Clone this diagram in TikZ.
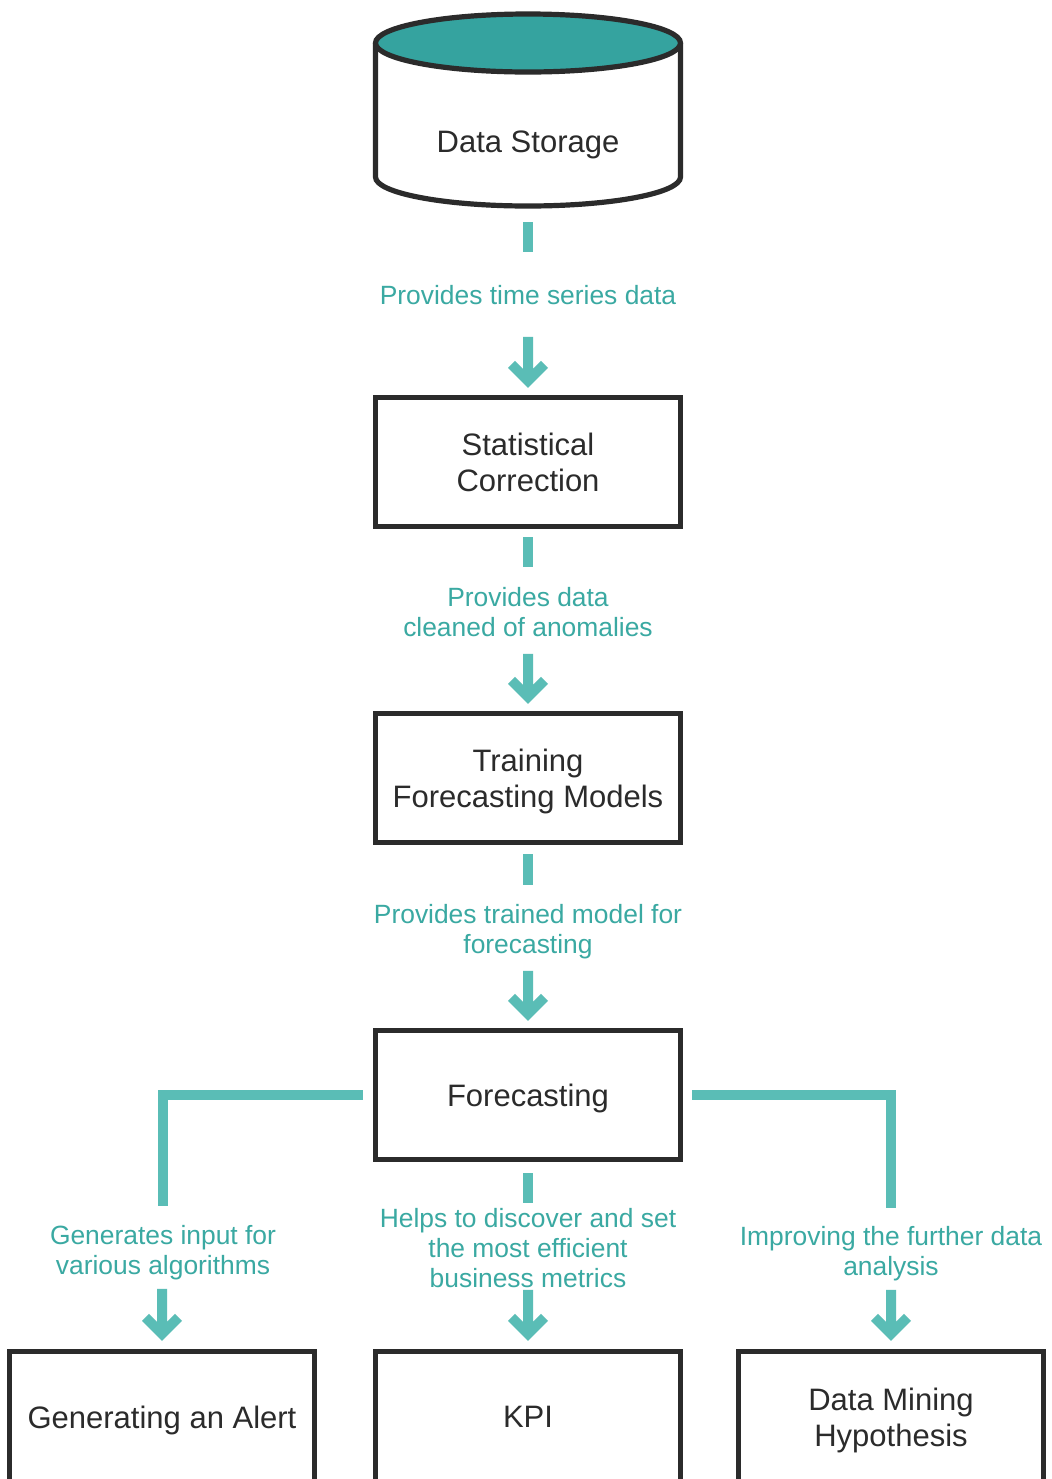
\documentclass[tikz,border=0pt]{standalone}
\usepackage{fontspec}
\setmainfont{Liberation Sans}
\definecolor{ink}{HTML}{2B2B2B}
\definecolor{tealline}{HTML}{5ABDB6}
\definecolor{tealtext}{HTML}{3AA9A2}
\definecolor{tealfill}{HTML}{35A39F}
\begin{document}
\begin{tikzpicture}[x=0.5pt,y=-0.5pt,
  inkline/.style={draw=ink, line width=2.6pt},
  stepbox/.style={inkline, fill=white, minimum width=152.5pt, minimum height=64.5pt,
    inner sep=0pt, align=center, text=ink, text depth=0pt,
    font=\fontsize{15.5}{18}\selectfont},
  endbox/.style={stepbox, minimum height=65.5pt},
  note/.style={text=tealtext, align=center, inner sep=0pt, text depth=0pt,
    font=\fontsize{13.2}{15}\selectfont},
  flow/.style={draw=tealline, line width=5pt, line cap=butt, line join=miter},
  pics/flowarrow/.style={code={
    \fill[tealline] (0,0) -- (-20,-20) -- (-13,-27) -- (-5,-19) -- (-5,-#1)
      -- (5,-#1) -- (5,-19) -- (13,-27) -- (20,-20) -- cycle;}}
]
\useasboundingbox (0,0) rectangle (1052,1479);
\clip (0,0) rectangle (1052,1479);
\fill[white] (0,0) rectangle (1052,1479);

% data storage cylinder
\draw[inkline, fill=white] (375.5,43) -- (375.5,177)
  arc[start angle=180, end angle=0, x radius=152.5, y radius=29] -- (680.5,43);
\filldraw[inkline, fill=tealfill] (528,43) ellipse [x radius=152.5, y radius=29];
\node[text=ink, text depth=0pt, font=\fontsize{15.5}{18}\selectfont] (ds) at (528,142) {Data Storage};
\coordinate (dsbase) at (528,208);

% process boxes
\node[stepbox] (b1) at (528,462) {Statistical\\Correction};
\node[stepbox] (b2) at (528,778) {Training\\Forecasting Models};
\node[stepbox] (b3) at (528,1095) {Forecasting};
\node[endbox] (alert) at (162,1417) {Generating an Alert};
\node[endbox] (kpi) at (528,1417) {KPI};
\node[endbox] (mining) at (891,1417) {Data Mining\\Hypothesis};

% connector labels
\node[note] (l1) at (528,295) {Provides time series data};
\node[note] (l2) at (528,611.5) {Provides data\\cleaned of anomalies};
\node[note] (l3) at (528,929) {Provides trained model for\\forecasting};
\node[note] (lleft) at (163,1250) {Generates input for\\various algorithms};
\node[note] (lmid) at (528,1248) {Helps to discover and set\\the most efficient\\business metrics};
\node[note] (lright) at (891,1251) {Improving the further data\\analysis};

% connectors
\draw[flow] ([yshift=-7pt]dsbase) -- ++(0,30);
\pic at ([yshift=3.5pt]b1.north) {flowarrow=51};
\draw[flow] ([yshift=-4pt]b1.south) -- ++(0,30);
\pic at ([yshift=3.5pt]b2.north) {flowarrow=50};
\draw[flow] ([yshift=-4.5pt]b2.south) -- ++(0,31);
\pic at ([yshift=3.5pt]b3.north) {flowarrow=50};

\coordinate (lend) at (163,1206);
\coordinate (rend) at (891,1208);
\draw[flow] ([xshift=-5pt]b3.west) -| (lend);
\draw[flow] ([xshift=4.5pt]b3.east) -| (rend);
\draw[flow] ([yshift=-5.5pt]b3.south) -- ++(0,30);

\pic at ([yshift=4pt]alert.north) {flowarrow=52};
\pic at ([yshift=4pt]kpi.north) {flowarrow=51};
\pic at ([yshift=4pt]mining.north) {flowarrow=51};
\end{tikzpicture}
\end{document}
